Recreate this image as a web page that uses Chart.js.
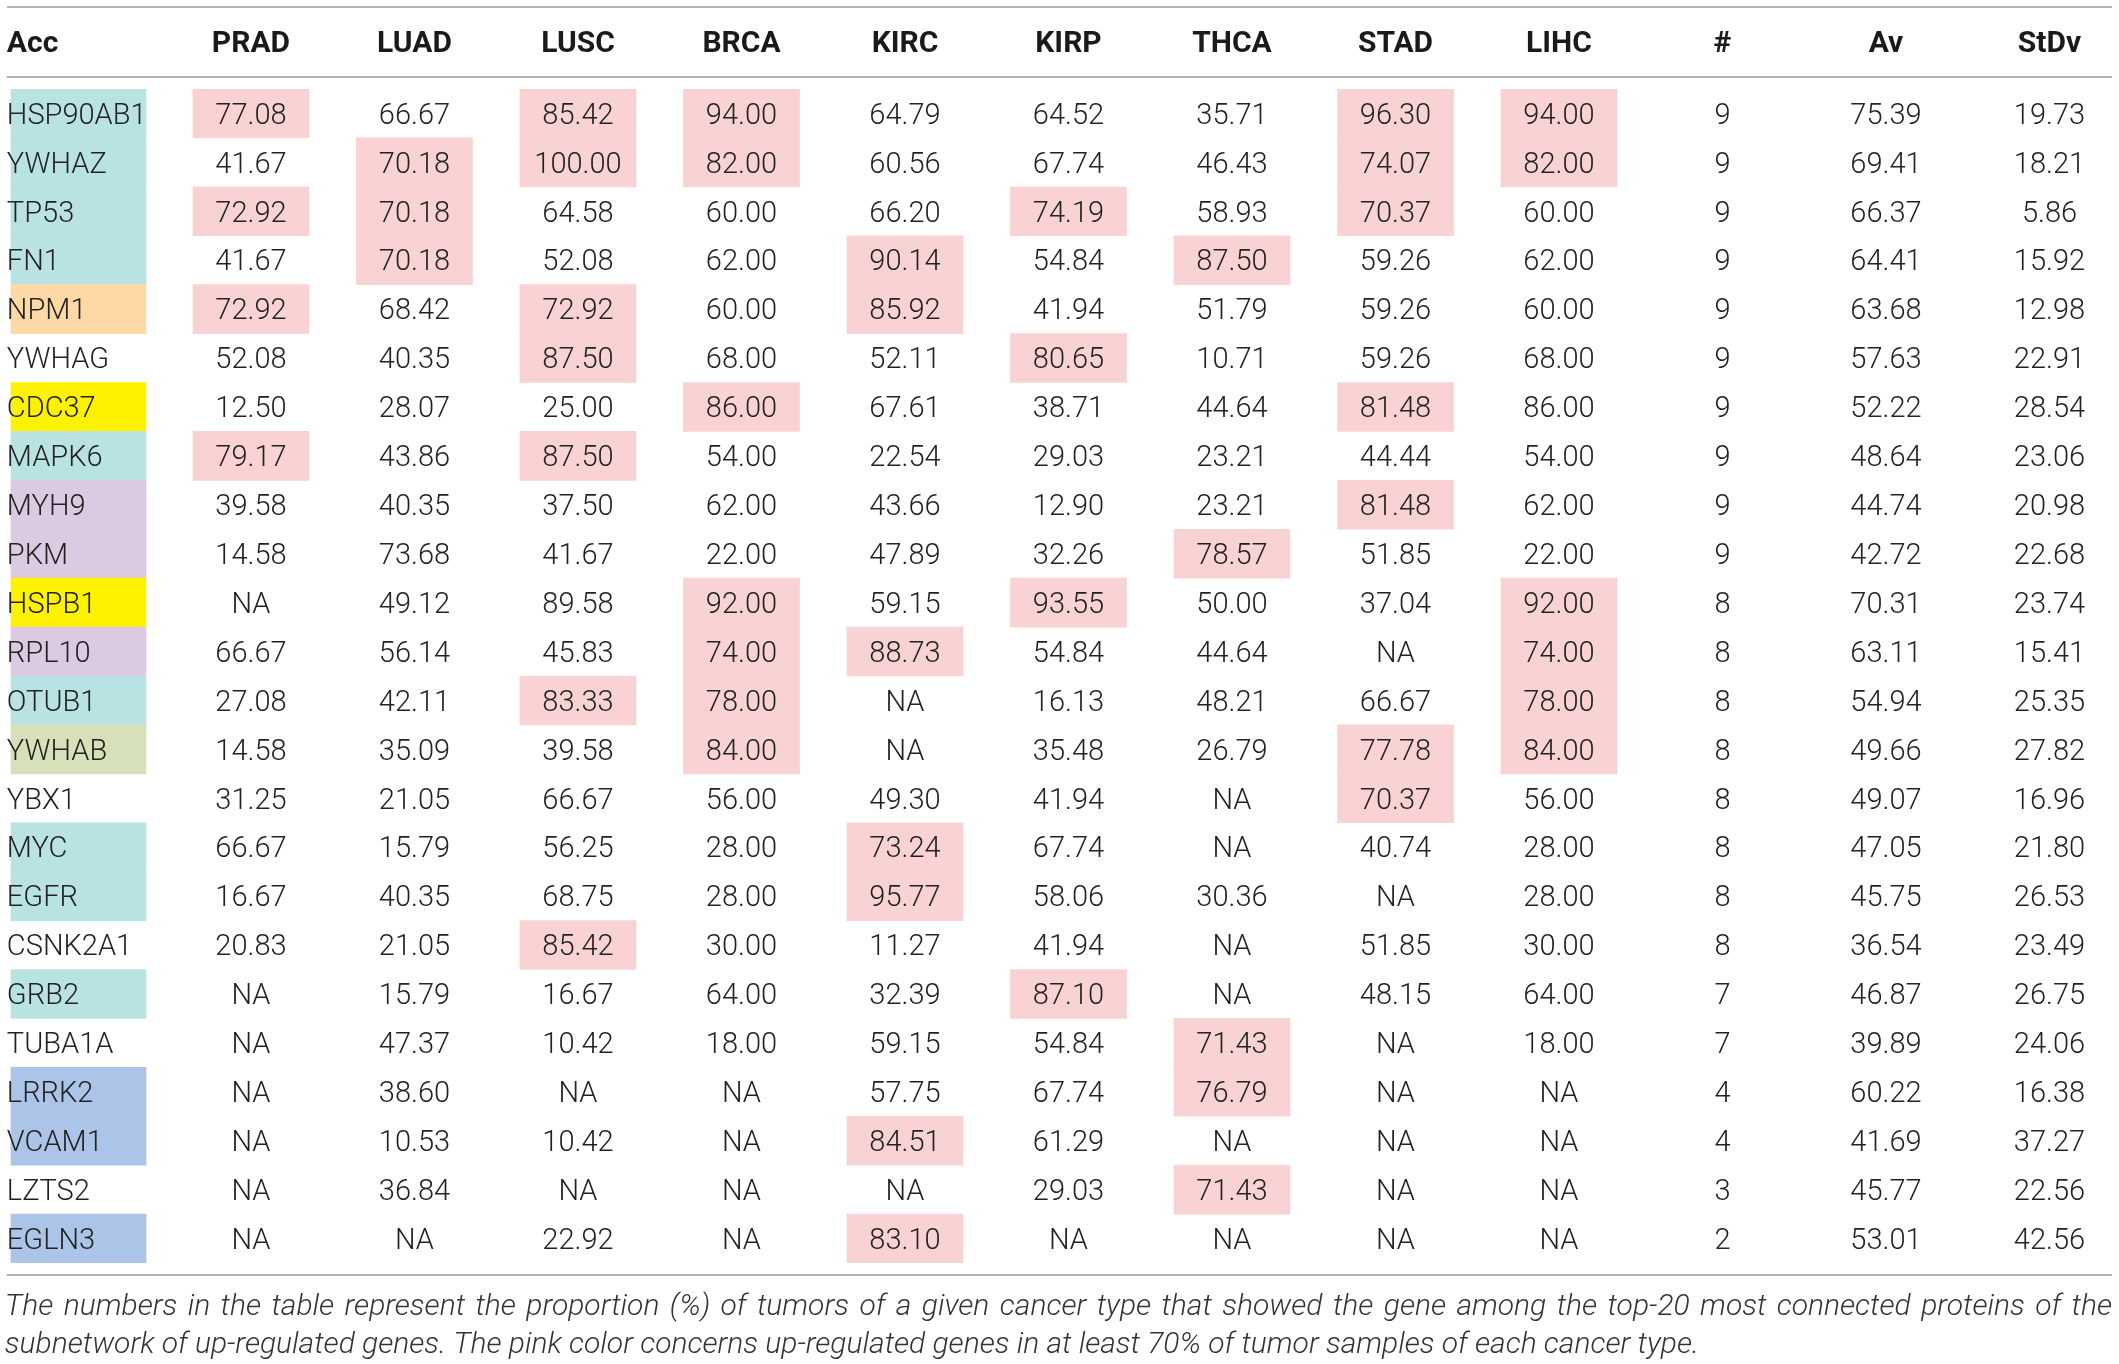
<!DOCTYPE html>
<html>
<head>
<meta charset="utf-8">
<script src="https://cdn.jsdelivr.net/npm/chart.js@4.4.1/dist/chart.umd.min.js"></script>
<style>
html,body{margin:0;padding:0;background:#fff;}
#tbl{display:block;}
</style>
</head>
<body>
<canvas id="tbl" width="2119" height="1364"></canvas>
<script>
var columns=["Acc","PRAD","LUAD","LUSC","BRCA","KIRC","KIRP","THCA","STAD","LIHC","#","Av","StDv"];
var genes=["HSP90AB1","YWHAZ","TP53","FN1","NPM1","YWHAG","CDC37","MAPK6","MYH9","PKM","HSPB1","RPL10",
    "OTUB1","YWHAB","YBX1","MYC","EGFR","CSNK2A1","GRB2","TUBA1A","LRRK2","VCAM1","LZTS2","EGLN3"];

var prad=[77.08,41.67,72.92,41.67,72.92,52.08,12.50,79.17,39.58,14.58,null,66.67,27.08,14.58,31.25,66.67,16.67,20.83,null,null,null,null,null,null];
var luad=[66.67,70.18,70.18,70.18,68.42,40.35,28.07,43.86,40.35,73.68,49.12,56.14,42.11,35.09,21.05,15.79,40.35,21.05,15.79,47.37,38.60,10.53,36.84,null];
var lusc=[85.42,100.00,64.58,52.08,72.92,87.50,25.00,87.50,37.50,41.67,89.58,45.83,83.33,39.58,66.67,56.25,68.75,85.42,16.67,10.42,null,10.42,null,22.92];
var brca=[94.00,82.00,60.00,62.00,60.00,68.00,86.00,54.00,62.00,22.00,92.00,74.00,78.00,84.00,56.00,28.00,28.00,30.00,64.00,18.00,null,null,null,null];
var kirc=[64.79,60.56,66.20,90.14,85.92,52.11,67.61,22.54,43.66,47.89,59.15,88.73,null,null,49.30,73.24,95.77,11.27,32.39,59.15,57.75,84.51,null,83.10];
var kirp=[64.52,67.74,74.19,54.84,41.94,80.65,38.71,29.03,12.90,32.26,93.55,54.84,16.13,35.48,41.94,67.74,58.06,41.94,87.10,54.84,67.74,61.29,29.03,null];
var thca=[35.71,46.43,58.93,87.50,51.79,10.71,44.64,23.21,23.21,78.57,50.00,44.64,48.21,26.79,null,null,30.36,null,null,71.43,76.79,null,71.43,null];
var stad=[96.30,74.07,70.37,59.26,59.26,59.26,81.48,44.44,81.48,51.85,37.04,null,66.67,77.78,70.37,40.74,null,51.85,48.15,null,null,null,null,null];
var lihc=[94.00,82.00,60.00,62.00,60.00,68.00,86.00,54.00,62.00,22.00,92.00,74.00,78.00,84.00,56.00,28.00,28.00,30.00,64.00,18.00,null,null,null,null];
var count=[9,9,9,9,9,9,9,9,9,9,8,8,8,8,8,8,8,8,7,7,4,4,3,2];
var av=[75.39,69.41,66.37,64.41,63.68,57.63,52.22,48.64,44.74,42.72,70.31,63.11,54.94,49.66,49.07,47.05,45.75,36.54,46.87,39.89,60.22,41.69,45.77,53.01];
var stdv=[19.73,18.21,5.86,15.92,12.98,22.91,28.54,23.06,20.98,22.68,23.74,15.41,25.35,27.82,16.96,21.80,26.53,23.49,26.75,24.06,16.38,37.27,22.56,42.56];

// cells marked pink, per gene
var pinkCols=[
    ["PRAD","LUSC","BRCA","STAD","LIHC"],
    ["LUAD","LUSC","BRCA","STAD","LIHC"],
    ["PRAD","LUAD","KIRP","STAD"],
    ["LUAD","KIRC","THCA"],
    ["PRAD","LUSC","KIRC"],
    ["LUSC","KIRP"],
    ["BRCA","STAD"],
    ["PRAD","LUSC"],
    ["STAD"],
    ["THCA"],
    ["BRCA","KIRP","LIHC"],
    ["BRCA","KIRC","LIHC"],
    ["LUSC","BRCA","LIHC"],
    ["BRCA","STAD","LIHC"],
    ["STAD"],
    ["KIRC"],
    ["KIRC"],
    ["LUSC"],
    ["KIRP"],
    ["THCA"],
    ["THCA"],
    ["KIRC"],
    ["THCA"],
    ["KIRC"]
];
// gene name background groups
var geneGroup=["teal","teal","teal","teal","orange",null,"yellow","teal","lilac","lilac","yellow","lilac",
    "teal","green",null,"teal","teal",null,"teal",null,"blue","blue",null,"blue"];

var caption1="The numbers in the table represent the proportion (%) of tumors of a given cancer type that showed the gene among the top-20 most connected proteins of the";
var caption2="subnetwork of up-regulated genes. The pink color concerns up-regulated genes in at least 70% of tumor samples of each cancer type.";

var groupColor={teal:"#b9e2e2",orange:"#fed8a5",yellow:"#fff200",lilac:"#dccae3",green:"#d6e1b9",blue:"#abc4e7"};
var PINK="#f9d3d3";
var colValues=[null,prad,luad,lusc,brca,kirc,kirp,thca,stad,lihc,count,av,stdv];

var datasets=[];
var geneBg=[],geneBgColor=[];
for(var i=0;i<genes.length;i++){
    geneBg.push(geneGroup[i]?[-0.468,0.358]:null);
    geneBgColor.push(geneGroup[i]?groupColor[geneGroup[i]]:"rgba(0,0,0,0)");
}
datasets.push({label:"Acc",data:geneBg,backgroundColor:geneBgColor});
for(var c=1;c<=9;c++){
    var d=[];
    for(var i=0;i<genes.length;i++){
        if(pinkCols[i].indexOf(columns[c])>=0) d.push([c-0.355,c+0.355]);
        else d.push(null);
    }
    datasets.push({label:columns[c],data:d,backgroundColor:PINK});
}

var FAM="Roboto, 'Liberation Sans', sans-serif";
var BODY="300 29px "+FAM;
var HEAD="bold 30px "+FAM;

function fmt(v,c){
    if(v===null||v===undefined) return "NA";
    if(columns[c]=="#") return String(v);
    return v.toFixed(2);
}

function justify(ctx,text,x0,x1,y){
    var words=text.split(" ");
    var total=0;
    for(var i=0;i<words.length;i++) total+=ctx.measureText(words[i]).width;
    var gap=(x1-x0-total)/(words.length-1);
    var x=x0;
    for(var i=0;i<words.length;i++){
        ctx.fillText(words[i],x,y);
        x+=ctx.measureText(words[i]).width+gap;
    }
}

var tablePlugin={
    id:"tableText",
    afterDatasetsDraw:function(chart){
        var ctx=chart.ctx;
        var xs=chart.scales.x, ys=chart.scales.y;
        var area=chart.chartArea;
        var left=xs.getPixelForValue(-0.493);
        var right=2112;
        ctx.save();
        // rules
        ctx.strokeStyle="#b4b4b4";
        ctx.lineWidth=2;
        [area.top-82,area.top-12,area.bottom+12].forEach(function(y){
            ctx.beginPath();ctx.moveTo(left,y);ctx.lineTo(right,y);ctx.stroke();
        });
        // header
        var hy=area.top-45;
        ctx.fillStyle="#1a1a1a";
        ctx.font=HEAD;
        ctx.textBaseline="middle";
        ctx.textAlign="left";
        ctx.fillText(columns[0],left,hy);
        ctx.textAlign="center";
        for(var c=1;c<columns.length;c++){
            ctx.fillText(columns[c],xs.getPixelForValue(c),hy);
        }
        // body
        ctx.font=BODY;
        ctx.fillStyle="#222";
        for(var i=0;i<genes.length;i++){
            var y=ys.getPixelForValue(i)+3;
            ctx.textAlign="left";
            ctx.fillText(genes[i],left,y);
            ctx.textAlign="center";
            for(var c=1;c<columns.length;c++){
                ctx.fillText(fmt(colValues[c][i],c),xs.getPixelForValue(c),y);
            }
        }
        // caption, sized so the first line fills the table width
        ctx.font="italic 300 24px "+FAM;
        var w=ctx.measureText(caption1).width;
        var size=Math.min(30,24*(right-left)/w*0.985);
        ctx.font="italic 300 "+size.toFixed(1)+"px "+FAM;
        ctx.fillStyle="#333";
        ctx.textAlign="left";
        justify(ctx,caption1,left-2,right,area.bottom+44);
        ctx.fillText(caption2,left-2,area.bottom+82);
        ctx.restore();
    }
};

var ctx1=document.getElementById("tbl").getContext("2d");
window.myTable=new Chart(ctx1,{
    type:"bar",
    data:{labels:genes,datasets:datasets},
    options:{
        indexAxis:"y",
        responsive:false,
        animation:false,
        devicePixelRatio:1,
        layout:{padding:{top:89,bottom:101,left:0,right:0}},
        datasets:{bar:{grouped:false,barPercentage:1,categoryPercentage:1,borderWidth:0}},
        plugins:{legend:{display:false},tooltip:{enabled:false},title:{display:false}},
        scales:{
            x:{type:"linear",min:-0.535,max:12.425,display:false},
            y:{type:"category",display:false,grid:{display:false}}
        }
    },
    plugins:[tablePlugin]
});
</script>
</body>
</html>
